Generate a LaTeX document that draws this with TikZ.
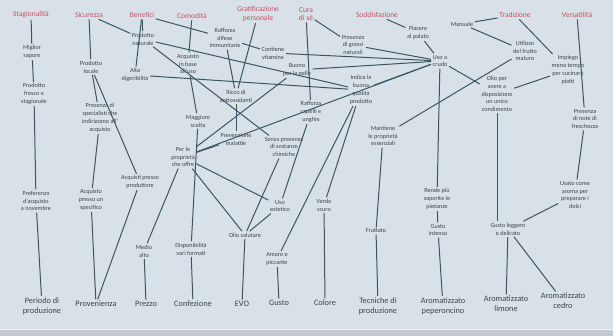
\documentclass[tikz,border=0pt]{standalone}
\usepackage{fontspec}
\setmainfont{Carlito}
\definecolor{bgc}{HTML}{D9E1E8}
\definecolor{catred}{HTML}{C4505E}
\definecolor{txt}{HTML}{3A444E}
\definecolor{lnc}{HTML}{3B5563}
\begin{document}
\begin{tikzpicture}[x=1pt,y=-1pt,
  cat/.style={text=catred, font=\fontsize{7.5}{8.5}\selectfont, align=center, inner sep=1.5pt},
  mid/.style={text=txt, font=\fontsize{6.2}{7.8}\selectfont, align=center, inner sep=1.5pt},
  bot/.style={text=txt, font=\fontsize{8.3}{10}\selectfont, align=center, inner sep=1.5pt},
  ln/.style={draw=lnc, line width=1pt}]
\fill[bgc] (0,0) rectangle (613,336);
\useasboundingbox (0,0) rectangle (613,336);
\fill[black!10!bgc] (0,330) rectangle (613,336);
\draw[white!60!bgc, line width=1pt] (0,329.5) -- (613,329.5);
% top categories
\node[cat] (stag) at (31,15) {Stagionalità};
\node[cat] (sicu) at (89,15) {Sicurezza};
\node[cat] (bene) at (142,15) {Benefici};
\node[cat] (como) at (192,16) {Comodità};
\node[cat] (grat) at (258,14) {Gratificazione\\personale};
\node[cat] (cura) at (306,14) {Cura\\di sé};
\node[cat] (sodd) at (377,15) {Soddisfazione};
\node[cat] (trad) at (515,15) {Tradizione};
\node[cat] (vers) at (577,15) {Versatilità};
% column 1
\node[mid] (migl) at (32,52) {Miglior\\sapore};
\node[mid] (fres) at (34,94) {Prodotto\\fresco e\\stagionale};
\node[mid] (pref) at (36,201) {Preferenza\\d'acquisto\\a novembre};
\node[bot] (peri) at (42,306) {Periodo di\\produzione};
% column 2
\node[mid] (loca) at (91,67) {Prodotto\\locale};
\node[mid] (spec) at (100,118) {Presenza di\\specialisti che\\indirizzano all'\\acquisto};
\node[mid] (pres) at (91,200) {Acquisto\\presso un\\specifico};
\node[mid] (prod) at (140,182) {Acquisti presso\\produttore};
\node[bot] (prov) at (96,304) {Provenienza};
% column 3
\node[mid] (natu) at (143,39) {Prodotto\\naturale};
\node[mid] (dige) at (135,75) {Alta\\digeribilità};
\node[mid] (medi) at (144,251) {Medio\\alto};
\node[bot] (prez) at (146,304) {Prezzo};
% column 4
\node[mid] (base) at (188,64) {Acquisto\\in base\\all'uso};
\node[mid] (magg) at (198,121) {Maggiore\\scelta};
\node[mid] (prop) at (183,157) {Per le\\proprietà\\che offre};
\node[mid] (disp) at (191,249) {Disponibilità\\vari formati};
\node[bot] (conf) at (193,304) {Confezione};
% column 5
\node[mid] (rdif) at (225,38) {Rafforza\\difese\\immunitarie};
\node[mid] (vita) at (273,53) {Contiene\\vitamine};
\node[mid] (ricc) at (236,96) {Ricco di\\antiossidanti};
\node[mid] (prev) at (236,139) {Prevenzione\\malattie};
\node[mid] (senz) at (284,147) {Senza presenza\\di sostanze\\chimiche};
\node[mid] (este) at (280,206) {Uso\\estetico};
\node[mid] (olio) at (245,235) {Olio salutare};
\node[bot] (evo) at (242,304) {EVO};
% column 6
\node[mid] (buon) at (297,70) {Buono\\per la pelle};
\node[mid] (gras) at (353,45) {Presenza\\di grassi\\naturali};
\node[mid] (indi) at (361,90) {Indica la\\buona\\qualità\\prodotto};
\node[mid] (rcap) at (311,112) {Rafforza\\capelli e\\unghie};
\node[mid] (verd) at (324,205) {Verde\\scuro};
\node[mid] (amar) at (277,259) {Amaro e\\piccante};
\node[bot] (gust) at (279,303) {Gusto};
\node[bot] (colo) at (325,303) {Colore};
% column 7
\node[mid] (pala) at (418,33) {Piacere\\al palato};
\node[mid] (crud) at (440,61) {Uso a\\crudo};
\node[mid] (mant) at (383,136) {Mantiene\\le proprietà\\essenziali};
\node[mid] (frut) at (376,231) {Fruttato};
\node[bot] (tecn) at (378,306) {Tecniche di\\produzione};
\node[mid] (rend) at (437,199) {Rende più\\saporite le\\pietanze};
\node[mid] (inte) at (438,230) {Gusto\\intenso};
\node[bot] (pepe) at (443,306) {Aromatizzato\\peperoncino};
% column 8
\node[mid] (manu) at (462,24) {Manuale};
\node[mid] (util) at (525,51) {Utilizzo\\del frutto\\maturo};
\node[mid] (impi) at (568,70) {Impiego\\meno tempo\\per cucinare\\piatti};
\node[mid] (oliu) at (497,94) {Olio per\\avere a\\disposizione\\un unico\\condimento};
\node[mid] (nfre) at (585,119) {Presenza\\di note di\\freschezza};
\node[mid] (arom) at (575,195) {Usato come\\aroma per\\preparare i\\dolci};
\node[mid] (legg) at (508,229) {Gusto leggero\\e delicato};
\node[bot] (limo) at (506,304) {Aromatizzato\\limone};
\node[bot] (cedr) at (563,301) {Aromatizzato\\cedro};
% connectors
\draw[ln] (stag) -- (migl);
\draw[ln] (migl) -- (fres);
\draw[ln] (fres) -- (pref);
\draw[ln] (pref) -- (peri);
\draw[ln] (sicu) -- (loca);
\draw[ln] (sicu) -- (natu);
\draw[ln] (loca) -- (spec);
\draw[ln] (loca) -- (prod);
\draw[ln] (spec) -- (pres);
\draw[ln] (pres) -- (prov);
\draw[ln] (prod) -- (prov);
\draw[ln] (bene) -- (natu);
\draw[ln] (bene) -- (dige);
\draw[ln] (bene) -- (rdif);
\draw[ln] (natu) -- (senz);
\draw[ln] (natu) -- (indi);
\draw[ln] (dige) -- (indi);
\draw[ln] (como) -- (base);
\draw[ln] (base) -- (magg);
\draw[ln] (magg) -- (disp);
\draw[ln] (disp) -- (conf);
\draw[ln] (grat) -- (ricc);
\draw[ln] (rdif) -- (vita);
\draw[ln] (rdif) -- (ricc);
\draw[ln] (ricc) -- (prev);
\draw[ln] (prop) -- (prev);
\draw[ln] (prop) -- (buon);
\draw[ln] (prop) -- (crud);
\draw[ln] (prop) -- (medi);
\draw[ln] (prop) -- (olio);
\draw[ln] (prop) -- (este);
\draw[ln] (medi) -- (prez);
\draw[ln] (senz) -- (olio);
\draw[ln] (este) -- (olio);
\draw[ln] (olio) -- (evo);
\draw[ln] (rcap) -- (este);
\draw[ln] (indi) -- (verd);
\draw[ln] (indi) -- (amar);
\draw[ln] (verd) -- (colo);
\draw[ln] (amar) -- (gust);
\draw[ln] (cura) -- (gras);
\draw[ln] (cura) -- (rcap);
\draw[ln] (sodd) -- (pala);
\draw[ln] (pala) -- (crud);
\draw[ln] (gras) -- (crud);
\draw[ln] (vita) -- (crud);
\draw[ln] (buon) -- (crud);
\draw[ln] (indi) -- (crud);
\draw[ln] (crud) -- (rend);
\draw[ln] (crud) -- (oliu);
\draw[ln] (mant) -- (util);
\draw[ln] (mant) -- (frut);
\draw[ln] (frut) -- (tecn);
\draw[ln] (rend) -- (inte);
\draw[ln] (inte) -- (pepe);
\draw[ln] (trad) -- (manu);
\draw[ln] (trad) -- (impi);
\draw[ln] (manu) -- (util);
\draw[ln] (oliu) -- (impi);
\draw[ln] (vers) -- (nfre);
\draw[ln] (nfre) -- (arom);
\draw[ln] (arom) -- (legg);
\draw[ln] (oliu.south) -- (oliu.south |- legg.north);
\draw[ln] (legg) -- (limo);
\draw[ln] (legg) -- (cedr);
\end{tikzpicture}
\end{document}
